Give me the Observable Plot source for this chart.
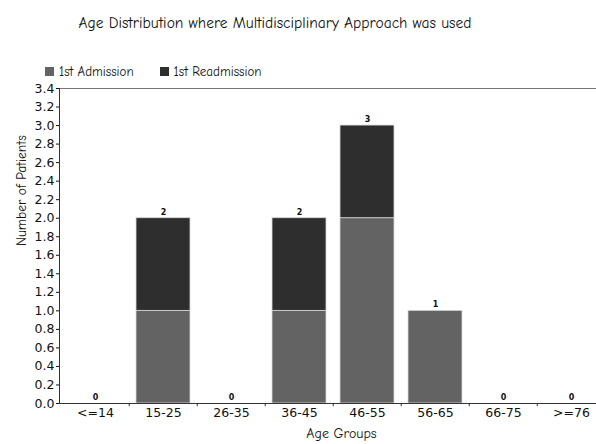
<!DOCTYPE html>
<html><head><meta charset="utf-8">
<script src="https://cdn.jsdelivr.net/npm/d3@7"></script>
<script src="https://cdn.jsdelivr.net/npm/@observablehq/plot@0.6"></script>
<style>
html,body{margin:0;padding:0;background:#fff;overflow:hidden;width:596px;height:444px;}
#wrap{position:relative;width:596px;height:444px;overflow:hidden;}
.comic{font-family:"Comic Sans MS","Comic Neue","DejaVu Sans",sans-serif;color:#111;}
#title{position:absolute;left:0;width:550px;top:14px;text-align:center;font-size:15.5px;}
#legend{position:absolute;left:45px;top:64px;font-size:13px;display:flex;align-items:center;}
.sw{display:inline-block;width:9px;height:9px;margin-right:5px;}
.item{display:flex;align-items:center;margin-right:26px;}
#chart{position:absolute;left:0;top:0;}
#chart svg{max-width:none !important;}
</style></head>
<body><div id="wrap">
<div id="chart"></div>
<div id="title" class="comic">Age Distribution where Multidisciplinary Approach was used</div>
<div id="legend" class="comic"></div>
</div>
<script>
const categories = ["<=14","15-25","26-35","36-45","46-55","56-65","66-75",">=76"];
const admission = [0,1,0,1,2,1,0,0];
const readmission = [0,1,0,1,1,0,0,0];
const seriesNames = ["1st Admission","1st Readmission"];
const seriesColors = ["#636363","#2e2e2e"];
const yTicks = [0,0.2,0.4,0.6,0.8,1.0,1.2,1.4,1.6,1.8,2.0,2.2,2.4,2.6,2.8,3.0,3.2,3.4];

const rows = [];
categories.forEach((c,i)=>{
  rows.push({cat:c, series:seriesNames[0], value:admission[i]});
  rows.push({cat:c, series:seriesNames[1], value:readmission[i]});
});
const totals = categories.map((c,i)=>({cat:c, total:admission[i]+readmission[i]}));

const W = 608, ML = 59, MR = 1;
const step = (W-ML-MR)/categories.length;
const comic = '"Comic Sans MS","Comic Neue","DejaVu Sans",sans-serif';

const chart = Plot.plot({
  width: W, height: 444,
  marginLeft: ML, marginRight: MR, marginTop: 88, marginBottom: 41,
  style: {fontFamily: '"DejaVu Sans", Verdana, sans-serif', background: "#fff", overflow: "visible", maxWidth: "none"},
  x: {domain: categories, paddingInner: 0.21, paddingOuter: 0.105, label: null},
  y: {domain: [0,3.4], label: null},
  color: {domain: seriesNames, range: seriesColors},
  marks: [
    Plot.barY(rows, {x:"cat", y:"value", fill:"series", stroke:"#d8d8d8", strokeWidth:0.8, order: seriesNames}),
    Plot.ruleY([3.4], {stroke:"#777", strokeWidth:1}),
    Plot.ruleY([0], {stroke:"#333", strokeWidth:1}),
    Plot.frame({anchor:"left", stroke:"#333"}),
    Plot.ruleX(categories.slice(1), {x:d=>d, dx:-step/2, y1:0, y2:-0.035, stroke:"#333"}),
    Plot.axisY({ticks: yTicks, tickFormat: d3.format(".1f"), tickSize: 3, tickPadding: 2, fontSize: 12.5, color:"#111", label:null}),
    Plot.axisX({tickSize: 0, tickPadding: 5, fontSize: 12.5, color:"#111", label:null}),
    Plot.text(totals, {x:"cat", y:"total", text:d=>String(d.total), dy:-6, fontSize:8, fontWeight:"bold", fill:"#111"}),
    Plot.text(["Number of Patients"], {frameAnchor:"left", dx:-38, rotate:-90, fontSize:13.5, fontFamily:comic, fill:"#111"}),
    Plot.text(["Age Groups"], {frameAnchor:"bottom", dy:34, dx: 8, fontSize:14, fontFamily:comic, fill:"#111"})
  ]
});
document.getElementById("chart").appendChild(chart);

const leg = document.getElementById("legend");
seriesNames.forEach((s,i)=>{
  const it = document.createElement("span"); it.className="item";
  const sw = document.createElement("span"); sw.className="sw"; sw.style.background=seriesColors[i];
  it.appendChild(sw); it.appendChild(document.createTextNode(s));
  leg.appendChild(it);
});
</script></body></html>
